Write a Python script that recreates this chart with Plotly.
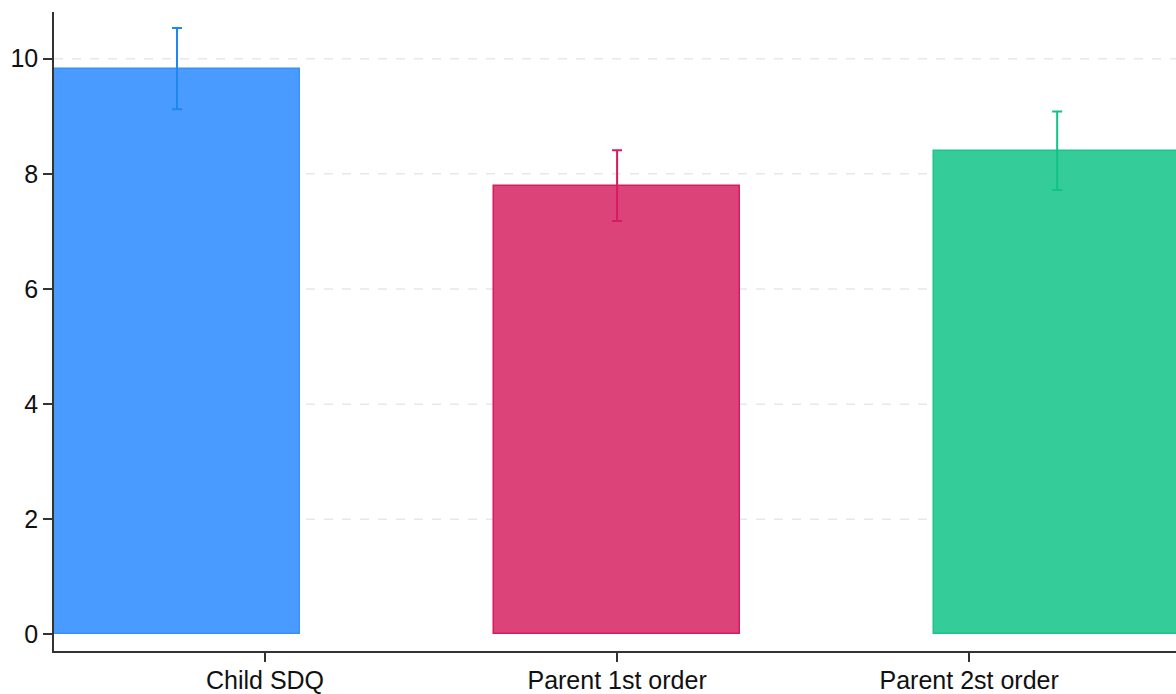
import plotly.graph_objects as go

# Mean scores with 95% confidence bounds
categories = ["Child SDQ", "Parent 1st order", "Parent 2st order"]
means = [9.82, 7.78, 8.39]
upper = [10.53, 8.41, 9.08]
lower = [9.12, 7.18, 7.72]

# Bars sit at 1, 2, 3; category labels are placed at their own positions
bar_positions = [1, 2, 3]
label_positions = [1.2, 2.0, 2.8]
y_ticks = [0, 2, 4, 6, 8, 10]

fills = ["#4A9BFF", "#DC4479", "#34CC99"]
edges = ["#3A90FA", "#D81B60", "#1CC48A"]
whiskers = ["#1E88F0", "#D81B60", "#10C285"]

fig = go.Figure()
for i, name in enumerate(categories):
    fig.add_trace(go.Bar(
        x=[bar_positions[i]],
        y=[means[i]],
        width=0.56,
        name=name,
        marker=dict(color=fills[i], line=dict(color=edges[i], width=1.5)),
        error_y=dict(
            type="data",
            symmetric=False,
            array=[upper[i] - means[i]],
            arrayminus=[means[i] - lower[i]],
            color=whiskers[i],
            thickness=2,
            width=5,
        ),
        showlegend=False,
    ))

# Dashed horizontal guides at the non-zero ticks, behind the bars
for t in y_ticks:
    if t == 0:
        continue
    fig.add_shape(
        type="line", xref="paper", x0=0, x1=1, yref="y", y0=t, y1=t,
        line=dict(color="#E8E8E8", width=1.5, dash="dash"),
        layer="below",
    )

axis_font = dict(family="Liberation Sans, Arial, Helvetica, sans-serif", size=25, color="#111111")

fig.update_layout(
    width=1176,
    height=694,
    margin=dict(l=54, r=0, t=12, b=43),
    plot_bgcolor="white",
    paper_bgcolor="white",
    bargap=0,
    xaxis=dict(
        range=[0.7205, 3.27],
        tickmode="array",
        tickvals=label_positions,
        ticktext=categories,
        ticks="outside",
        ticklen=9,
        tickwidth=1.5,
        tickcolor="#333333",
        ticklabelstandoff=-3,
        showline=True,
        linecolor="#333333",
        linewidth=1.5,
        showgrid=False,
        zeroline=False,
        tickfont=axis_font,
    ),
    yaxis=dict(
        range=[-0.287, 10.81],
        tickmode="array",
        tickvals=y_ticks,
        ticks="outside",
        ticklen=9,
        tickwidth=1.5,
        tickcolor="#333333",
        showline=True,
        linecolor="#333333",
        linewidth=1.5,
        showgrid=False,
        zeroline=False,
        tickfont=axis_font,
    ),
)

fig.write_html("out.html")
